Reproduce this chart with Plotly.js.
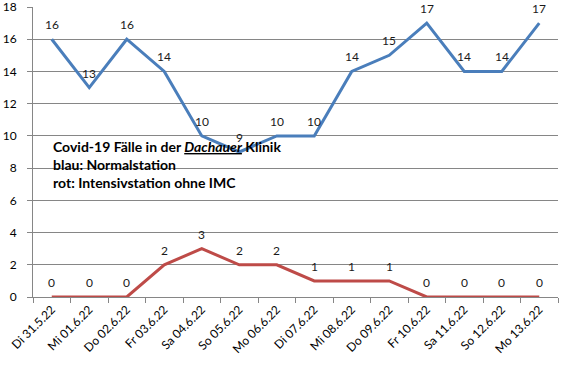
<!DOCTYPE html>
<html><head><meta charset="utf-8">
<script src="https://cdn.plot.ly/plotly-3.0.1.min.js"></script>
<style>body{margin:0;padding:0;background:#fff}#c{width:568px;height:379px}</style>
</head><body><div id="c"></div>
<script>
const categories = ["Di 31.5.22","Mi 01.6.22","Do 02.6.22","Fr 03.6.22","Sa 04.6.22","So 05.6.22","Mo 06.6.22","Di 07.6.22","Mi 08.6.22","Do 09.6.22","Fr 10.6.22","Sa 11.6.22","So 12.6.22","Mo 13.6.22"];
const normalstation = [16,13,16,14,10,9,10,10,14,15,17,14,14,17];
const intensivstation = [0,0,0,2,3,2,2,1,1,1,0,0,0,0];

const FONT = "Lato, 'Open Sans', sans-serif";
const traces = [
  {x: categories, y: normalstation, type: "scatter", mode: "lines", line: {color: "#4A7EBB", width: 3}, hoverinfo: "skip"},
  {x: categories, y: intensivstation, type: "scatter", mode: "lines", line: {color: "#BE4B48", width: 3}, hoverinfo: "skip"}
];
const annotations = [];
[normalstation, intensivstation].forEach(series => {
  series.forEach((v, i) => {
    annotations.push({x: categories[i], y: v, xref: "x", yref: "y", text: String(v), showarrow: false,
      yanchor: "bottom", yshift: 6, borderpad: 0, font: {family: FONT, size: 12, color: "#1a1a1a"}});
  });
});
annotations.push({xref: "paper", yref: "paper", x: 0.035, y: 0.555, xanchor: "left", yanchor: "top", align: "left", showarrow: false,
  text: "<b>Covid-19 Fälle in der <i><u>Dachauer</u></i> Klinik<br>blau: Normalstation<br>rot: Intensivstation ohne IMC</b>",
  font: {family: FONT, size: 14, color: "#000"}});

const layout = {
  width: 568, height: 379,
  margin: {l: 33, r: 10, t: 7, b: 82},
  paper_bgcolor: "#fff", plot_bgcolor: "#fff",
  showlegend: false,
  font: {family: FONT, size: 11, color: "#000"},
  xaxis: {type: "category", range: [-0.5, 13.5], tickson: "boundaries", ticks: "outside", ticklen: 5, tickcolor: "#868686",
    showgrid: false, showline: true, linecolor: "#868686", linewidth: 1, tickangle: -45, zeroline: false,
    tickfont: {family: FONT, size: 12, color: "#000"}},
  yaxis: {range: [0, 18], dtick: 2, ticks: "outside", ticklen: 5, tickcolor: "#868686", showgrid: true, gridcolor: "#868686", gridwidth: 1,
    showline: true, linecolor: "#868686", linewidth: 1, zeroline: false, ticklabeloverflow: "allow", ticklabelstandoff: 8,
    tickfont: {family: FONT, size: 12, color: "#000"}},
  annotations: annotations
};
Plotly.newPlot("c", traces, layout, {staticPlot: true, displayModeBar: false});
</script></body></html>
